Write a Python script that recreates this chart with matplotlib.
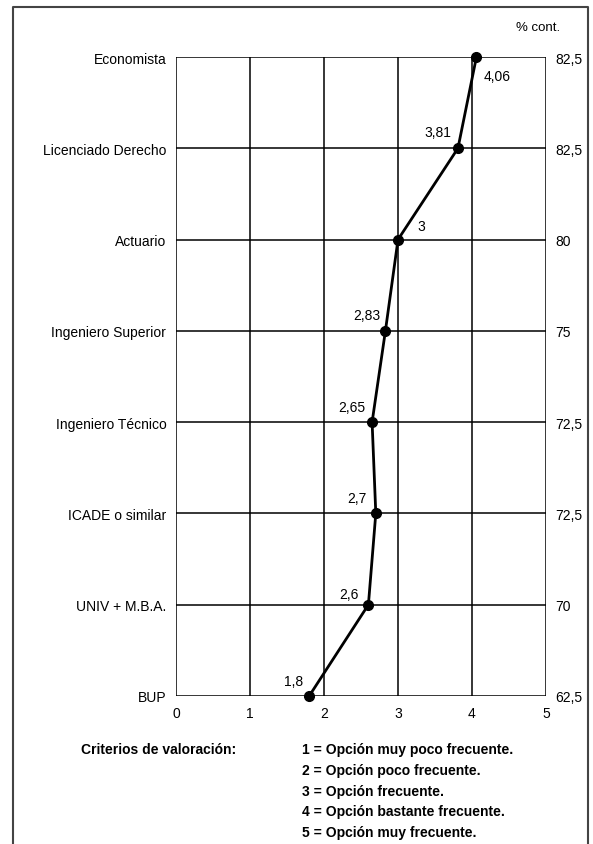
import matplotlib.pyplot as plt
from matplotlib.lines import Line2D

# data
categories = ['Economista', 'Licenciado Derecho', 'Actuario', 'Ingeniero Superior',
              'Ingeniero Técnico', 'ICADE o similar', 'UNIV + M.B.A.', 'BUP']
scores = [4.06, 3.81, 3, 2.83, 2.65, 2.7, 2.6, 1.8]
score_labels = ['4,06', '3,81', '3', '2,83', '2,65', '2,7', '2,6', '1,8']
pct_cont = ['82,5', '82,5', '80', '75', '72,5', '72,5', '70', '62,5']
criterios = ['1 = Opción muy poco frecuente.', '2 = Opción poco frecuente.',
             '3 = Opción frecuente.', '4 = Opción bastante frecuente.',
             '5 = Opción muy frecuente.']

plt.rcParams['font.family'] = ['Liberation Sans', 'DejaVu Sans']

fig = plt.figure(figsize=(5.93, 8.45), dpi=100)
ax = fig.add_axes([176 / 593, 148 / 845, 370 / 593, 639 / 845])

ypos = list(range(len(categories) - 1, -1, -1))

for y in ypos:
    ax.axhline(y, color='black', lw=1.1, zorder=1)
for x in range(6):
    ax.axvline(x, color='black', lw=1.1, zorder=1)

ax.plot(scores, ypos, color='black', lw=2, marker='o', ms=7, zorder=3, clip_on=False)

# value labels, placed by hand around each point
offsets = [(5, -14), (-4.5, 12), (17, 9.5), (-3.5, 11.5), (-5, 11), (-6.5, 11), (-7, 8), (-4.5, 11)]
for s, y, lab, (dx, dy) in zip(scores, ypos, score_labels, offsets):
    ha = 'left' if dx > 0 else 'right'
    if lab == '3':
        ha = 'center'
    ax.annotate(lab, (s, y), xytext=(dx, dy), textcoords='offset points',
                ha=ha, va='center', fontsize=10)

ax.set_xlim(0, 5)
ax.set_ylim(0, len(categories) - 1)
ax.set_xticks(range(6))
ax.set_yticks(ypos)
ax.set_yticklabels(categories)
ax.tick_params(length=0, labelsize=10, pad=7)
for sp in ax.spines.values():
    sp.set_visible(False)

ax2 = ax.twinx()
ax2.set_ylim(ax.get_ylim())
ax2.set_yticks(ypos)
ax2.set_yticklabels(pct_cont)
ax2.tick_params(length=0, labelsize=10, pad=7)
for sp in ax2.spines.values():
    sp.set_visible(False)

fig.text(538 / 593, 1 - 28 / 845, '% cont.', ha='center', va='center', fontsize=9.5)

# criteria legend underneath
fig.text(81 / 593, 1 - 750 / 845, 'Criterios de valoración:', fontsize=10,
         fontweight='bold', va='center')
for i, c in enumerate(criterios):
    fig.text(302 / 593, 1 - (750 + i * 20.8) / 845, c, fontsize=10,
             fontweight='bold', va='center')

# outer frame (open at the bottom)
fx0, fx1, fy1 = 12.5 / 593, 588 / 593, 1 - 8 / 845
fig.add_artist(Line2D([fx0, fx0, fx1, fx1], [0, fy1, fy1, 0],
                      transform=fig.transFigure, color='#444444', lw=1.5))

fig.savefig('out.png', dpi=100)
